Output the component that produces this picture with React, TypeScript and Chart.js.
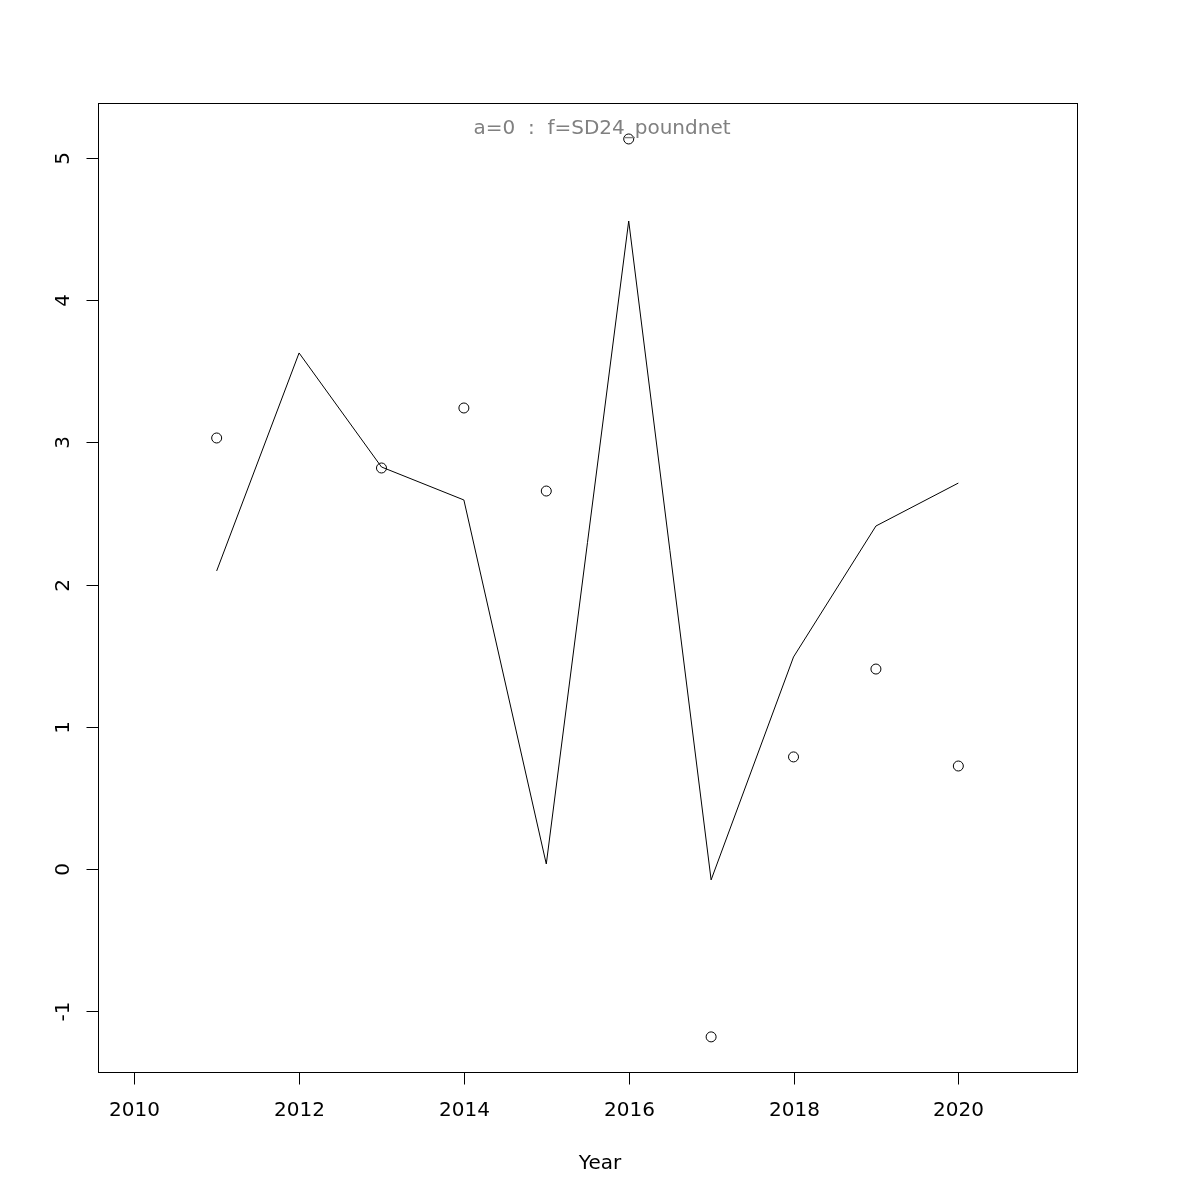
import React, { useEffect, useRef } from "react";
import { Chart, registerables } from "chart.js";

Chart.register(...registerables);

const years = [2011, 2012, 2013, 2014, 2015, 2016, 2017, 2018, 2019, 2020];
const observed: (number | null)[] = [3.031, null, 2.82, 3.242, 2.658, 5.134, -1.181, 0.788, 1.406, 0.724];
const fitted = [2.096, 3.629, 2.827, 2.595, 0.035, 4.557, -0.077, 1.491, 2.412, 2.714];
const xTicks = [2010, 2012, 2014, 2016, 2018, 2020];
const yTicks = [-1, 0, 1, 2, 3, 4, 5];
const titleText = "a=0  :  f=SD24_poundnet";
const xLabel = "Year";

const FONT = '"DejaVu Sans", sans-serif';

const axesPlugin = {
  id: "rAxes",
  afterDraw(chart: any) {
    const ctx = chart.ctx;
    const { left, right, top, bottom } = chart.chartArea;
    const xs = chart.scales.x;
    const ys = chart.scales.y;
    ctx.save();
    ctx.strokeStyle = "#000";
    ctx.lineWidth = 1;
    ctx.strokeRect(Math.round(left) + 0.5, Math.round(top) + 0.5, Math.round(right - left), Math.round(bottom - top));
    const x0 = Math.round(xs.getPixelForValue(xTicks[0])) + 0.5;
    const x1 = Math.round(xs.getPixelForValue(xTicks[xTicks.length - 1])) + 0.5;
    const by = Math.round(bottom) + 0.5;
    ctx.beginPath();
    ctx.moveTo(x0, by);
    ctx.lineTo(x1, by);
    ctx.stroke();
    ctx.fillStyle = "#000";
    ctx.font = `20px ${FONT}`;
    ctx.textAlign = "center";
    ctx.textBaseline = "middle";
    for (const t of xTicks) {
      const px = Math.round(xs.getPixelForValue(t)) + 0.5;
      ctx.beginPath();
      ctx.moveTo(px, by);
      ctx.lineTo(px, by + 12);
      ctx.stroke();
      ctx.fillText(String(t), px, 1111);
    }
    const lx = Math.round(left) + 0.5;
    const y0 = Math.round(ys.getPixelForValue(yTicks[0])) + 0.5;
    const y1 = Math.round(ys.getPixelForValue(yTicks[yTicks.length - 1])) + 0.5;
    ctx.beginPath();
    ctx.moveTo(lx, y0);
    ctx.lineTo(lx, y1);
    ctx.stroke();
    for (const t of yTicks) {
      const py = Math.round(ys.getPixelForValue(t)) + 0.5;
      ctx.beginPath();
      ctx.moveTo(lx, py);
      ctx.lineTo(lx - 12, py);
      ctx.stroke();
      ctx.save();
      ctx.translate(64, py);
      ctx.rotate(-Math.PI / 2);
      ctx.fillText(String(t), 0, 0);
      ctx.restore();
    }
    ctx.fillText(xLabel, 600, 1164);
    ctx.fillStyle = "#808080";
    ctx.fillText(titleText, 602, 129);
    ctx.restore();
  },
};

export default function App() {
  const ref = useRef<HTMLCanvasElement | null>(null);
  useEffect(() => {
    if (!ref.current) return;
    const chart = new Chart(ref.current, {
      type: "line",
      data: {
        datasets: [
          {
            label: "fitted",
            data: years.map((y, i) => ({ x: y, y: fitted[i] })),
            borderColor: "#000",
            borderWidth: 1,
            pointRadius: 0,
            fill: false,
            tension: 0,
          },
          {
            label: "observed",
            data: years
              .map((y, i) => ({ x: y, y: observed[i] }))
              .filter((p) => p.y !== null) as any,
            showLine: false,
            borderColor: "#000",
            backgroundColor: "rgba(0,0,0,0)",
            borderWidth: 1,
            pointRadius: 5,
            pointBorderColor: "#000",
            pointBackgroundColor: "rgba(0,0,0,0)",
            pointBorderWidth: 1,
          },
        ],
      },
      options: {
        responsive: false,
        animation: false,
        layout: { padding: { left: 98, top: 103, right: 123, bottom: 128 } },
        plugins: { legend: { display: false }, tooltip: { enabled: false }, title: { display: false } },
        scales: {
          x: { type: "linear", min: 2009.56, max: 2021.44, display: false },
          y: { type: "linear", min: -1.428, max: 5.387, display: false },
        },
      },
      plugins: [axesPlugin],
    });
    return () => chart.destroy();
  }, []);
  return (
    <div style={{ position: "absolute", left: 0, top: 0, width: 1200, height: 1200, background: "#fff" }}>
      <canvas ref={ref} width={1200} height={1200} style={{ width: 1200, height: 1200, display: "block" }} />
    </div>
  );
}
